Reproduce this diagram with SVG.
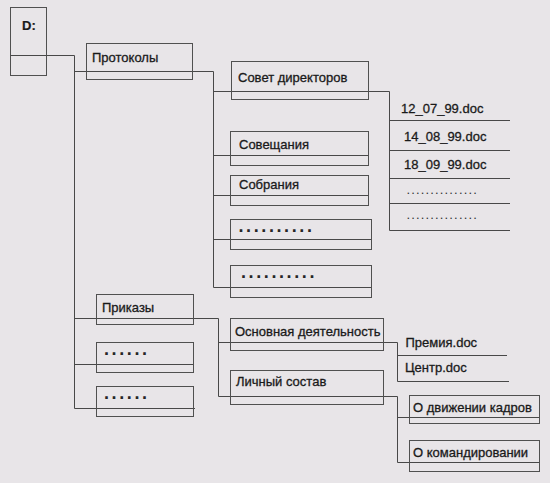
<svg xmlns="http://www.w3.org/2000/svg" width="550" height="483" viewBox="0 0 550 483">
<style>
.bg{fill:#e8e5e8}
.box{fill:none;stroke:#505050;stroke-width:1}
.ln{fill:none;stroke:#484848;stroke-width:1}
.t{font-family:"Liberation Sans",Arial,sans-serif;font-size:13px;fill:#1a1a1a;stroke:#1a1a1a;stroke-width:0.3px}
.b{font-weight:bold;stroke-width:0.2px}
.bd{font-family:"Liberation Sans",Arial,sans-serif;font-size:18px;font-weight:bold;fill:#262626;letter-spacing:2.6px}
.fd{font-family:"Liberation Sans",Arial,sans-serif;font-size:13px;fill:#333;letter-spacing:1.15px}
</style>
<rect class="bg" x="0" y="0" width="550" height="483"/>
<g id="connectors">
<path class="ln" d="M46.5,55.5H74.5V408.5"/>
<path class="ln" d="M74.5,71.5H213.5"/>
<path class="ln" d="M74.5,318.5H218.5"/>
<path class="ln" d="M74.5,364.5H193.5"/>
<path class="ln" d="M74.5,408.5H195"/>
<path class="ln" d="M213.5,71.5V287.5"/>
<path class="ln" d="M213.5,91.5H389.5"/>
<path class="ln" d="M213.5,155.5H368"/>
<path class="ln" d="M213.5,195.5H369"/>
<path class="ln" d="M213.5,239.5H371.5"/>
<path class="ln" d="M213.5,287.5H371.5"/>
<path class="ln" d="M389.5,91.5V230.5"/>
<path class="ln" d="M389.5,120.5H510"/>
<path class="ln" d="M389.5,150.5H510"/>
<path class="ln" d="M389.5,178.5H510"/>
<path class="ln" d="M389.5,203.5H510"/>
<path class="ln" d="M389.5,230.5H510"/>
<path class="ln" d="M218.5,318.5V396.5"/>
<path class="ln" d="M218.5,342.5H397.5V381.5"/>
<path class="ln" d="M397.5,355.5H507"/>
<path class="ln" d="M397.5,381.5H509"/>
<path class="ln" d="M218.5,396.5H397.5V462.5"/>
<path class="ln" d="M397.5,417.5H540"/>
<path class="ln" d="M397.5,462.5H540"/>
</g>
<g id="node-d">
<rect class="box" x="10.5" y="7.5" width="36" height="68"/>
<line class="ln" x1="10.5" y1="55.5" x2="46.5" y2="55.5"/>
<text class="t b" x="22" y="30">D:</text>
</g>
<g id="node-protokoly">
<rect class="box" x="86.5" y="43.5" width="106" height="36"/>
<text class="t" x="92" y="62">Протоколы</text>
</g>
<g id="node-sovet">
<rect class="box" x="231.5" y="61.5" width="137" height="38"/>
<text class="t" x="238" y="82">Совет директоров</text>
</g>
<g id="node-soveshchaniya">
<rect class="box" x="230.5" y="131.5" width="138" height="34"/>
<text class="t" x="239" y="149">Совещания</text>
</g>
<g id="node-sobraniya">
<rect class="box" x="230.5" y="175.5" width="138" height="30"/>
<text class="t" x="239" y="189">Собрания</text>
</g>
<g id="node-dots1">
<rect class="box" x="230.5" y="219.5" width="141" height="30"/>
<text class="bd" x="238.5" y="232">..........</text>
</g>
<g id="node-dots2">
<rect class="box" x="230.5" y="265.5" width="141" height="32"/>
<text class="bd" x="241" y="278">..........</text>
</g>
<g id="file-1"><text class="t" x="401" y="113">12_07_99.doc</text></g>
<g id="file-2"><text class="t" x="404" y="141">14_08_99.doc</text></g>
<g id="file-3"><text class="t" x="404" y="169">18_09_99.doc</text></g>
<g id="file-4"><text class="fd" x="406.5" y="194">...............</text></g>
<g id="file-5"><text class="fd" x="406.5" y="219">...............</text></g>
<g id="node-prikazy">
<rect class="box" x="96.5" y="294.5" width="97" height="30"/>
<text class="t" x="102" y="312">Приказы</text>
</g>
<g id="node-dots3">
<rect class="box" x="96.5" y="342.5" width="97" height="30"/>
<text class="bd" x="104" y="355">......</text>
</g>
<g id="node-dots4">
<rect class="box" x="96.5" y="386.5" width="97" height="30"/>
<text class="bd" x="104" y="399">......</text>
</g>
<g id="node-osnovnaya">
<rect class="box" x="230.5" y="318.5" width="153" height="32"/>
<text class="t" x="235" y="336">Основная деятельность</text>
</g>
<g id="node-lichny">
<rect class="box" x="230.5" y="370.5" width="153" height="34"/>
<text class="t" x="236" y="386">Личный состав</text>
</g>
<g id="file-premiya"><text class="t" x="405.5" y="347">Премия.doc</text></g>
<g id="file-centr"><text class="t" x="405" y="372">Центр.doc</text></g>
<g id="node-dvizhenie">
<rect class="box" x="409.5" y="395.5" width="130" height="28"/>
<text class="t" x="413" y="412">О движении кадров</text>
</g>
<g id="node-komandirovanie">
<rect class="box" x="409.5" y="440.5" width="130" height="31"/>
<text class="t" x="413" y="457">О командировании</text>
</g>
</svg>
